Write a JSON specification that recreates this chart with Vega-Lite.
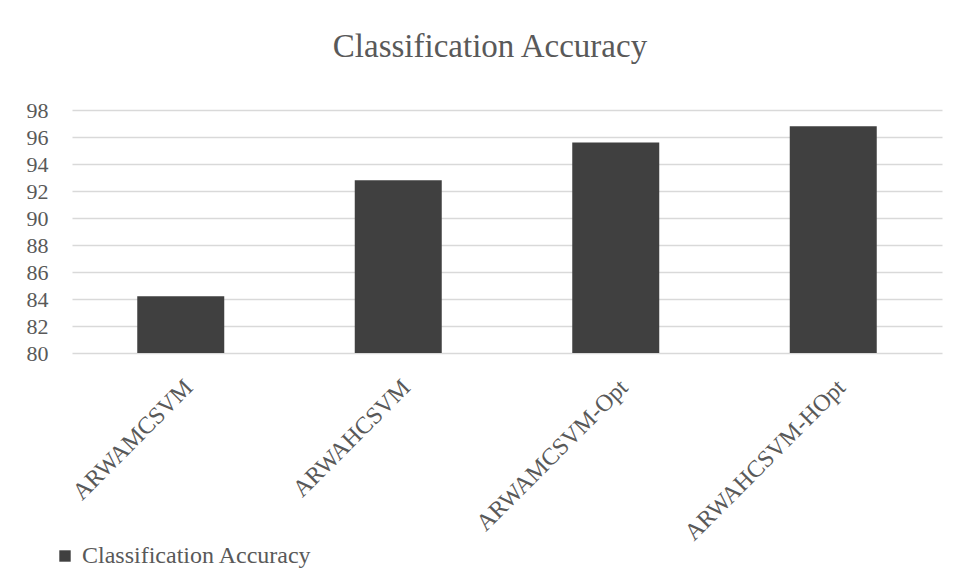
{
  "$schema": "https://vega.github.io/schema/vega-lite/v6.json",
  "autosize": "none",
  "width": 870,
  "height": 243,
  "padding": {"left": 72, "top": 110, "right": 17, "bottom": 222},
  "background": "#ffffff",
  "title": {
    "text": "Classification Accuracy",
    "font": "Liberation Serif",
    "fontSize": 33,
    "fontWeight": "normal",
    "color": "#595959",
    "anchor": "middle",
    "baseline": "alphabetic",
    "offset": 9,
    "dx": -17
  },
  "data": {
    "values": [
      {"model": "ARWAMCSVM", "accuracy": 84.2, "series": "Classification Accuracy"},
      {"model": "ARWAHCSVM", "accuracy": 92.8, "series": "Classification Accuracy"},
      {"model": "ARWAMCSVM-Opt", "accuracy": 95.6, "series": "Classification Accuracy"},
      {"model": "ARWAHCSVM-HOpt", "accuracy": 96.8, "series": "Classification Accuracy"}
    ]
  },
  "mark": {"type": "bar", "clip": true},
  "encoding": {
    "x": {
      "field": "model",
      "type": "nominal",
      "sort": null,
      "scale": {"paddingInner": 0.6, "paddingOuter": 0.3},
      "axis": {
        "title": null,
        "labelAngle": -45,
        "labelFont": "Liberation Serif",
        "labelFontSize": 24,
        "labelColor": "#595959",
        "labelPadding": 22,
        "labelLimit": 400,
        "ticks": false,
        "domain": false,
        "grid": false
      }
    },
    "y": {
      "field": "accuracy",
      "type": "quantitative",
      "scale": {"domain": [80, 98], "nice": false, "zero": false},
      "axis": {
        "title": null,
        "values": [80, 82, 84, 86, 88, 90, 92, 94, 96, 98],
        "labelFont": "Liberation Serif",
        "labelFontSize": 22,
        "labelColor": "#595959",
        "labelPadding": 24,
        "ticks": false,
        "domain": false,
        "grid": true,
        "gridColor": "#d9d9d9",
        "gridWidth": 1.3
      }
    },
    "color": {
      "field": "series",
      "type": "nominal",
      "scale": {"range": ["#404040"]},
      "legend": {
        "title": null,
        "orient": "none",
        "legendX": -19,
        "legendY": 434,
        "symbolType": "square",
        "symbolSize": 130,
        "symbolStrokeWidth": 0,
        "labelFont": "Liberation Serif",
        "labelFontSize": 24,
        "labelColor": "#595959",
        "labelOffset": 5,
        "labelLimit": 400
      }
    }
  },
  "config": {
    "view": {"stroke": null}
  }
}
